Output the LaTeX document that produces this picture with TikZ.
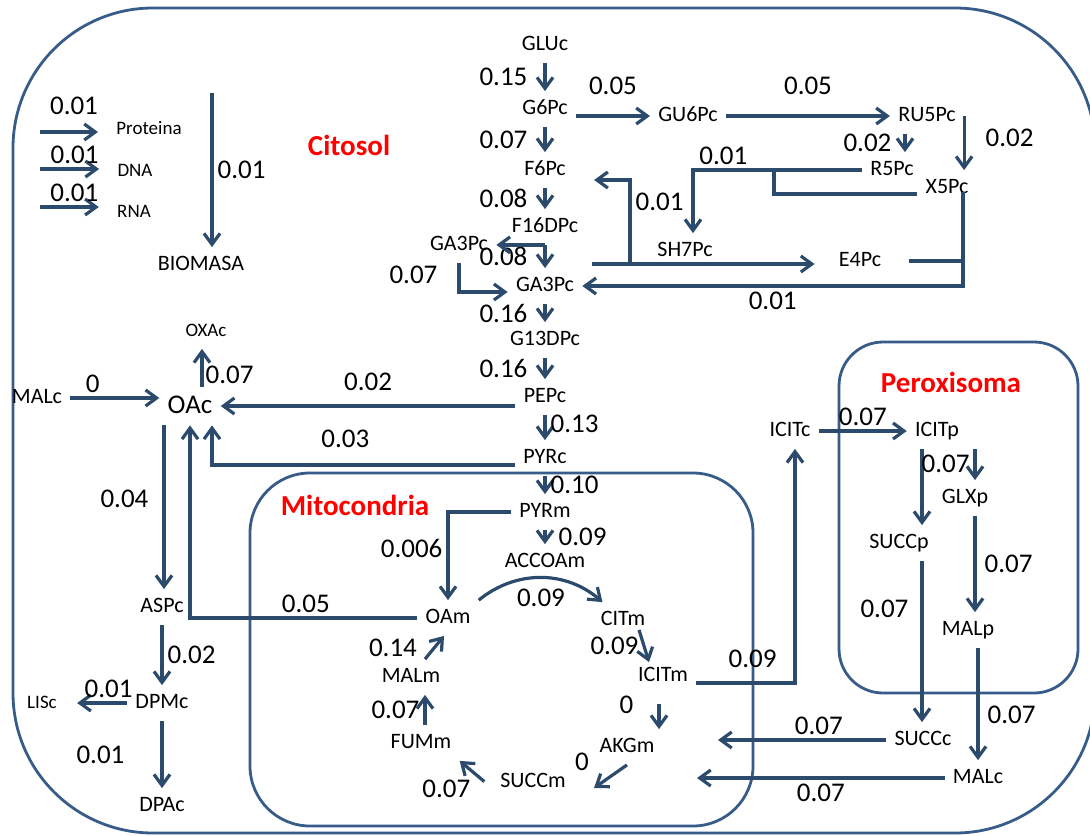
\documentclass[tikz,border=0pt]{standalone}
\usepackage{fontspec}
\setmainfont{Carlito}
\usetikzlibrary{arrows.meta}
\definecolor{flux}{RGB}{44,74,108}
\definecolor{wall}{RGB}{56,92,138}

\begin{document}
\begin{tikzpicture}[x=0.5pt, y=-0.5pt,
  met/.style={font=\fontsize{11}{13}\selectfont, text height=7.5pt, text depth=2pt, inner sep=4pt},
  sml/.style={met, font=\fontsize{9.5}{11}\selectfont},
  big/.style={met, font=\fontsize{13.5}{16}\selectfont, text height=9pt},
  num/.style={font=\fontsize{13.5}{16}\selectfont, inner sep=2pt},
  ar/.style={draw=flux, line width=1.6pt, -{Straight Barb[length=5.5pt,width=8pt]}},
  ln/.style={draw=flux, line width=1.6pt},
  comp/.style={draw=wall, line width=1.4pt},
  title/.style={font=\bfseries\fontsize{14.5}{17}\selectfont, text=red}]

  \useasboundingbox (0,0) rectangle (1090,835);

  % compartments
  \draw[comp, rounded corners=70pt] (13,8) rectangle (1095,833);
  \draw[comp, rounded corners=30pt] (250,473) rectangle (753,826);
  \draw[comp, rounded corners=22pt] (839,342) rectangle (1078,693);
  \node[title] (citosol) at (349,145) {Citosol};
  \node[title] (mito) at (355,505) {Mitocondria};
  \node[title] (perox) at (951,382) {Peroxisoma};

  % biomass
  \node[sml] (Proteina) at (149,129) {Proteina};
  \node[sml] (DNA) at (135,171) {DNA};
  \node[sml] (RNA) at (134,212) {RNA};
  \node[met] (BIOMASA) at (201,265) {BIOMASA};
  \coordinate (protsrc) at (40,132);
  \coordinate (dnasrc) at (40,169);
  \coordinate (rnasrc) at (40,207);
  \coordinate (biosrc) at (212,93);

  % glycolysis and pentose phosphate
  \node[met] (GLUc) at (545,45) {GLUc};
  \node[met] (G6Pc) at (545,109) {G6Pc};
  \node[met] (F6Pc) at (545,170) {F6Pc};
  \node[met] (F16DPc) at (545,227) {F16DPc};
  \node[met] (GA3Pa) at (459,245) {GA3Pc};
  \node[met] (GA3Pc) at (545,286) {GA3Pc};
  \node[met] (G13DPc) at (545,340) {G13DPc};
  \node[met] (PEPc) at (545,397) {PEPc};
  \node[met] (PYRc) at (545,458) {PYRc};
  \node[met] (GU6Pc) at (688,116) {GU6Pc};
  \node[met] (RU5Pc) at (927,116) {RU5Pc};
  \node[met] (R5Pc) at (892,170) {R5Pc};
  \node[met] (X5Pc) at (947,188) {X5Pc};
  \node[met] (SH7Pc) at (685,251) {SH7Pc};
  \node[met] (E4Pc) at (860,261) {E4Pc};
  \coordinate (tk) at (592,264);
  \coordinate (x5drop) at ([xshift=8pt,yshift=7pt]X5Pc.south);

  % oxaloacetate and aspartate
  \node[met] (MALc) at (37,398) {MALc};
  \node[big] (OAc) at (190,406) {OAc};
  \node[sml] (OXAc) at (206,331) {OXAc};
  \node[met] (ASPc) at (162,607) {ASPc};
  \node[met] (DPMc) at (162,703) {DPMc};
  \node[sml] (LISc) at (42,703) {LISc};
  \node[met] (DPAc) at (162,806) {DPAc};

  % mitochondria
  \node[met] (PYRm) at (545,512) {PYRm};
  \node[met] (ACCOAm) at (545,562) {ACCOAm};
  \node[met] (OAm) at (448,618) {OAm};
  \node[met] (CITm) at (623,620) {CITm};
  \node[met] (ICITm) at (663,676) {ICITm};
  \node[met] (AKGm) at (627,747) {AKGm};
  \node[met] (SUCCm) at (533,782) {SUCCm};
  \node[met] (FUMm) at (421,743) {FUMm};
  \node[met] (MALm) at (411,677) {MALm};

  % glyoxylate shunt
  \node[met] (ICITc) at (790,431) {ICITc};
  \node[met] (ICITp) at (937,431) {ICITp};
  \node[met] (GLXp) at (965,498) {GLXp};
  \node[met] (SUCCp) at (899,543) {SUCCp};
  \node[met] (MALp) at (968,630) {MALp};
  \node[met] (SUCCc) at (923,740) {SUCCc};
  \node[met] (MALcp) at (978,778) {MALc};
  \coordinate (akgin) at (718,740);
  \coordinate (succmin) at (697,778);

  % fluxes
  \draw[ar, shorten >=5pt] (protsrc) -- (protsrc -| Proteina.west) node[midway,above=6pt,num] {0.01};
  \draw[ar, shorten >=5pt] (dnasrc) -- (dnasrc -| DNA.west) node[midway,above,num] {0.01};
  \draw[ar, shorten >=5pt] (rnasrc) -- (rnasrc -| RNA.west) node[midway,above,num] {0.01};
  \draw[ar] (biosrc) -- (biosrc |- BIOMASA.north) node[midway,right,num] {0.01};

  \draw[ar] (GLUc) -- (G6Pc) node[midway,left=6pt,num] {0.15};
  \draw[ar] (G6Pc) -- (F6Pc) node[midway,left=6pt,num] {0.07};
  \draw[ar] (F6Pc) -- (F16DPc) node[midway,left=6pt,num] {0.08};
  \draw[ar] (F16DPc) -- (GA3Pc) node[midway,left=6pt,num] {0.08};
  \draw[ar] (F16DPc.south) -- (F16DPc.south -| GA3Pa.east);
  \draw[ar] (GA3Pa.south) |- ([yshift=-3pt]GA3Pc.west) node[pos=0.2,left=8pt,num] {0.07};
  \draw[ar] (GA3Pc) -- (G13DPc) node[midway,left=6pt,num] {0.16};
  \draw[ar] (G13DPc) -- (PEPc) node[midway,left=6pt,num] {0.16};
  \draw[ar] (PEPc) -- (PYRc) node[pos=0.35,right,num] {0.13};
  \draw[ar] (PYRc) -- (PYRm) node[midway,right,num] {0.10};
  \draw[ar] (PYRm) -- (ACCOAm) node[midway,right=4pt,num] {0.09};

  \draw[ar] (G6Pc.east |- GU6Pc) -- (GU6Pc) node[midway,above=8pt,num] {0.05};
  \draw[ar] (GU6Pc) -- (RU5Pc) node[midway,above=8pt,num] {0.05};
  \draw[ar] ([xshift=-11pt]RU5Pc.south) -- ([xshift=-11pt]RU5Pc.south |- R5Pc.north) node[midway,left=4pt,num] {0.02};
  \draw[ar] (RU5Pc.east) -- (RU5Pc.east |- X5Pc.north) node[pos=0.4,right=8pt,num] {0.02};
  \draw[ar] (R5Pc.west) -| ([xshift=4pt]SH7Pc.north) node[pos=0.41,above,num] {0.01};
  \draw[ln] ([yshift=-3pt]X5Pc.west) -| ([xshift=-44pt]R5Pc.west);
  \draw[ar, shorten >=8pt] (tk) -- (tk -| E4Pc.west);
  \draw[ar, shorten >=10pt] ([xshift=19pt]tk) |- ([yshift=-5pt]F6Pc.east) node[pos=0.37,right,num] {0.01};
  \draw[ar] (x5drop) |- (GA3Pc) node[pos=0.75,below,num] {0.01};
  \draw[ln, shorten <=10pt] (E4Pc.east) -- (E4Pc.east -| x5drop);

  \draw[ar] (PEPc.west |- OAc) -- (OAc) node[midway,above=5pt,num] {0.02};
  \draw[ar] ([yshift=-3.5pt]PYRc.west) -| ([xshift=11pt]OAc.south) node[pos=0.28,above=6pt,num] {0.03};
  \draw[ar] (MALc.east) -- (MALc.east -| OAc.west) node[pos=0.25,above,num] {0};
  \draw[ar] ([xshift=6pt]OAc.north) -- ([xshift=6pt]OAc.north |- OXAc.south) node[pos=0.3,right=-1pt,num] {0.07};
  \draw[ar] ([xshift=-13pt]OAc.south) -- ([xshift=-13pt]OAc.south |- ASPc.north) node[pos=0.45,left=5pt,num] {0.04};
  \draw[ar] (OAm.west) -| (OAc) node[pos=0.245,above,num] {0.05};
  \draw[ar] (ASPc) -- (DPMc) node[midway,right,num] {0.02};
  \draw[ar, shorten >=6pt] (DPMc) -- (LISc) node[pos=0.3,above,num] {0.01};
  \draw[ar] (DPMc) -- (DPAc) node[midway,left=16pt,num] {0.01};

  \draw[ar] (PYRm.west) -| (OAm) node[pos=0.705,left,num] {0.006};
  \draw[ar] (OAm.north east) to[bend left=40] node[midway,below=3pt,num] {0.09} ([xshift=5pt]CITm.north west);
  \draw[ar] ([xshift=8pt,yshift=4pt]CITm.south) -- ([xshift=-7pt,yshift=-2pt]ICITm.north) node[midway,left,num] {0.09};
  \draw[ar, shorten <=5pt] ([xshift=-2pt]ICITm.south) -- ([xshift=-2pt]ICITm.south |- AKGm.north) node[pos=0.3,left=10pt,num] {0};
  \draw[ar] (AKGm.south) -- ([xshift=10pt,yshift=-3pt]SUCCm.east) node[midway,above left,xshift=-8pt,num] {0};
  \draw[ar, shorten <=5pt] ([yshift=-3pt]SUCCm.west) -- (FUMm.south east) node[midway,below left,num] {0.07};
  \draw[ar] ([xshift=2pt]FUMm.north) -- ([xshift=2pt]FUMm.north |- MALm.south) node[midway,left,num] {0.07};
  \draw[ar] ([xshift=7pt]MALm.north) -- ([xshift=-2pt]OAm.south) node[midway,left=6pt,num] {0.14};

  \draw[ar] ([yshift=-3.5pt]ICITm.east) -| ([xshift=2.5pt]ICITc.south) node[pos=0.285,above=5pt,num] {0.09};
  \draw[ar] (ICITc) -- (ICITp) node[midway,above,num] {0.07};
  \draw[ar] ([xshift=5pt]GLXp.north |- ICITp.south) -- ([xshift=5pt]GLXp.north);
  \draw[ar] ([xshift=-7.5pt]ICITp.south) -- ([xshift=-7.5pt]ICITp.south |- SUCCp.north) node[pos=0.2,right=-3pt,num] {0.07};
  \draw[ar] ([xshift=5pt]GLXp.south) -- ([xshift=5pt]GLXp.south |- MALp.north) node[midway,right=2pt,num] {0.07};
  \draw[ar] ([xshift=11.5pt]SUCCp.south) -- ([xshift=11.5pt]SUCCp.south |- SUCCc.north) node[pos=0.3,left=4pt,num] {0.07};
  \draw[ar] ([xshift=5pt]MALp.south) -- (MALcp) node[pos=0.6,right=2pt,num] {0.07};
  \draw[ar] (SUCCc) -- (akgin) node[pos=0.4,above,num] {0.07};
  \draw[ar] (MALcp) -- (succmin) node[pos=0.5,below,num] {0.07};
\end{tikzpicture}
\end{document}
